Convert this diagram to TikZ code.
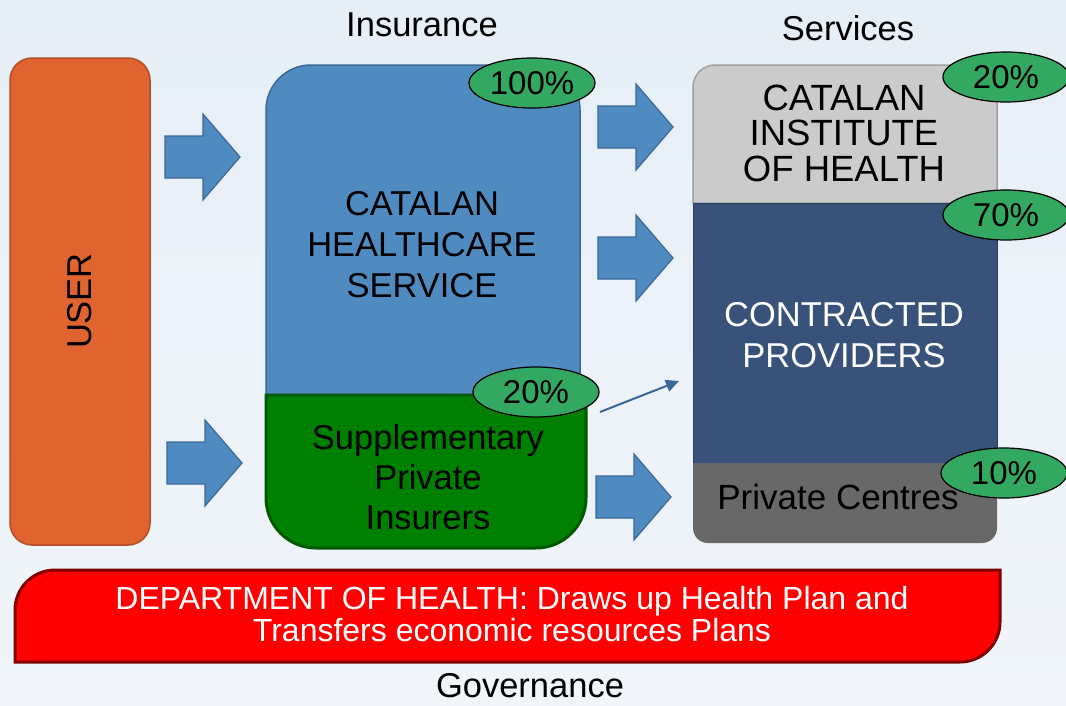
\documentclass[tikz,border=0pt]{standalone}
\usepackage{fontspec}
\setmainfont{Liberation Sans}
\usetikzlibrary{arrows.meta,shapes.geometric}

\definecolor{bgtop}{RGB}{230,238,246}
\definecolor{bgbot}{RGB}{241,245,250}
\definecolor{userfill}{RGB}{224,100,48}
\definecolor{userline}{RGB}{176,78,38}
\definecolor{insfill}{RGB}{79,139,193}
\definecolor{insline}{RGB}{58,104,150}
\definecolor{suppfill}{RGB}{0,128,0}
\definecolor{suppline}{RGB}{0,88,0}
\definecolor{instfill}{RGB}{203,203,203}
\definecolor{instline}{RGB}{160,160,160}
\definecolor{provfill}{RGB}{57,82,122}
\definecolor{provline}{RGB}{42,62,98}
\definecolor{privfill}{RGB}{104,104,104}
\definecolor{pctfill}{RGB}{51,168,96}
\definecolor{deptline}{RGB}{128,0,0}

\begin{document}
\begin{tikzpicture}[x=1pt, y=-1pt,
    txt/.style={align=center, inner sep=0pt, font=\fontsize{34.5}{41}\selectfont},
    pct/.style={shape=ellipse, draw=black, line width=1.2pt, fill=pctfill,
      minimum width=126pt, minimum height=50pt, inner sep=0pt,
      font=\fontsize{33}{33}\selectfont},
    blockarrow/.style={fill=insfill, draw=insline, line width=1.2pt},
    thinarrow/.style={draw=insline, line width=2pt, -{Triangle[length=13pt,width=12pt]}}]
    \useasboundingbox (0,0) rectangle (1066,705);
    \shade[top color=bgtop, bottom color=bgbot] (0,0) rectangle (1066,705);

    % user
    \draw[fill=userfill, draw=userline, line width=1.5pt, rounded corners=22pt] (10,58) rectangle (150,545);
    \node[txt, rotate=90] (user) at (80,301) {USER};

    % block arrows
    \foreach \x/\y in {165/157, 167/463, 598/127, 598/258, 596/497}
      \draw[blockarrow] (\x,\y-21) -- ++(38,0) -- ++(0,-22) -- ++(37,43) -- ++(-37,43) -- ++(0,-22) -- ++(-38,0) -- cycle;

    % insurance
    \draw[fill=insfill, draw=insline, line width=1.5pt] (266,395) [rounded corners=45pt] -- (266,65) -- (580,65) [sharp corners] -- (580,395) -- cycle;
    \node[txt] (chs) at (422,245) {CATALAN\\HEALTHCARE\\SERVICE};
    \draw[fill=suppfill, draw=suppline, line width=3pt] (266,395) [rounded corners=50pt] -- (266,548) -- (586,548) [sharp corners] -- (586,395) -- cycle;
    \node[txt, font=\fontsize{34.5}{40}\selectfont] (spi) at (428,477) {Supplementary\\Private\\Insurers};

    % services
    \draw[fill=instfill, draw=instline, line width=1.5pt] (693,203) [rounded corners=22pt] -- (693,65) -- (997,65) [sharp corners] -- (997,203) -- cycle;
    \draw[fill=provfill, draw=provline, line width=1pt] (693,203) rectangle (997,463);
    \draw[fill=privfill, draw=none] (693,463) [rounded corners=15pt] -- (693,543) -- (997,543) [sharp corners] -- (997,463) -- cycle;
    \node[txt, font=\fontsize{36.5}{35.5}\selectfont] (cih) at (844,133) {CATALAN\\INSTITUTE\\OF HEALTH};
    \node[txt, text=white] (cp) at (844,335) {CONTRACTED\\PROVIDERS};
    \node[txt, font=\fontsize{35}{41}\selectfont] (pc) at (838,497) {Private Centres};

    % shares
    \node[pct] (pct-chs) at (532,83) {100\%};
    \node[pct] (pct-spi) at (536,392) {20\%};
    \node[pct] (pct-cih) at (1006,77) {20\%};
    \node[pct] (pct-cp) at (1006,215) {70\%};
    \node[pct] (pct-pc) at (1004,473) {10\%};

    \coordinate (spi-out) at (600,412);
    \coordinate (cp-in) at (679,381);
    \draw[thinarrow] (spi-out) -- (cp-in);

    % governance
    \draw[fill=red, draw=deptline, line width=3pt] (15,662) [rounded corners=40pt] -- (15,570) [sharp corners] -- (1000,570) [rounded corners=40pt] -- (1000,662) [sharp corners] -- cycle;
    \node[txt, text=white, font=\fontsize{32}{32}\selectfont] (doh) at (512,614) {DEPARTMENT OF HEALTH: Draws up Health Plan and\\Transfers economic resources Plans};

    \node[txt] (insurance) at (422,25) {Insurance};
    \node[txt] (services) at (848,28) {Services};
    \node[txt] (governance) at (530,686) {Governance};
\end{tikzpicture}
\end{document}
